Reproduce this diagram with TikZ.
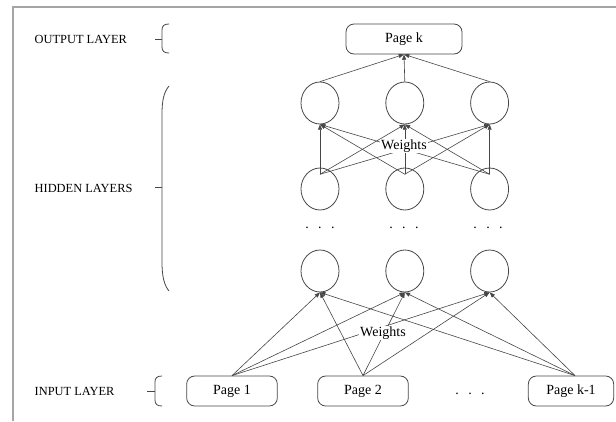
\documentclass[tikz,border=0pt]{standalone}
\usepackage{fontspec}
\setmainfont{Liberation Serif}
\usetikzlibrary{positioning,arrows.meta,shapes.geometric}
\definecolor{Frame}{RGB}{165,165,165}
\definecolor{Ink}{RGB}{70,70,70}
\newcommand{\tdots}{.\hspace{7pt}.\hspace{7pt}.}

\begin{document}
\begin{tikzpicture}[x=.75pt,y=-.75pt,node distance=34.5pt,
 pg/.style={rounded corners=6pt,draw=Ink,line width=.6pt,minimum width=68pt,minimum height=22.5pt,font=\fontsize{10.5}{12}\selectfont},
 n/.style={ellipse,draw=Ink,line width=.6pt,minimum width=28.5pt,minimum height=31.5pt,inner sep=0pt},
 lbl/.style={anchor=west,font=\fontsize{9.3}{11}\selectfont},
 w/.style={fill=white,inner sep=.6pt,font=\fontsize{10.5}{12}\selectfont},
 dd/.style={font=\fontsize{10.5}{12}\selectfont},
 a/.style={-{Triangle[length=4pt,width=3pt]},Ink,line width=.45pt},
 br/.style={Ink,line width=.6pt}]
\useasboundingbox (0,0) rectangle (616,421);
\draw[Frame,line width=1pt] (616,7) -- (13,7) -- (13,421);
% layer names
\node[lbl] (lo) at (30,39) {OUTPUT LAYER};
\node[lbl] (lh) at (30,188) {HIDDEN LAYERS};
\node[lbl] (li) at (30,391) {INPUT LAYER};
% brackets
\draw[br] (169,24) .. controls (164,24) and (162,26) .. (162,30) -- (162,47) .. controls (162,51) and (164,53) .. (169,53);
\draw[br] (155,39) -- (162,39);
\draw[br] (169,86) .. controls (164,92) and (162,100) .. (162,114) -- (162,262) .. controls (162,276) and (164,285) .. (169,291);
\draw[br] (155,187) -- (162,187);
\draw[br] (162,376) .. controls (157,376) and (155,378) .. (155,382) -- (155,400) .. controls (155,404) and (157,406) .. (162,406);
\draw[br] (147,391) -- (155,391);
% output
\node[pg,minimum width=87pt] (pk) at (404,39) {Page k};
% hidden
\node[n] (h1) at (320,103) {};
\node[n,right=of h1] (h2) {};
\node[n,right=of h2] (h3) {};
\node[n] (m1) at (320,189) {};
\node[n,right=of m1] (m2) {};
\node[n,right=of m2] (m3) {};
\node[dd] (d1) at (320,228) {\tdots};
\node[dd] (d2) at (404,228) {\tdots};
\node[dd] (d3) at (488,228) {\tdots};
\node[n] (b1) at (320,271) {};
\node[n,right=of b1] (b2) {};
\node[n,right=of b2] (b3) {};
% input
\node[pg] (p1) at (232,391) {Page 1};
\node[pg] (p2) at (363,391) {Page 2};
\node[pg,minimum width=64pt] (pk1) at (571,391) {Page k-1};
\node[dd] (d4) at (470,394) {\tdots};
% connections
\foreach \i in {1,2,3}
  \draw[a] (h\i.north) -- (pk.south);
\foreach \i in {1,2,3}
  \foreach \j in {1,2,3}
    \draw[a] ([yshift=-5pt]m\i.north) -- (h\j.south);
\foreach \j in {1,2,3} {
  \draw[a] (p1.north) -- (b\j.south);
  \draw[a] (p2.north) -- (b\j.south);
  \draw[a] ([xshift=3pt]pk1.north) -- (b\j.south);
}
\node[w] (w1) at (404,146) {Weights};
\node[w] (w2) at (383,333) {Weights};
\end{tikzpicture}
\end{document}
